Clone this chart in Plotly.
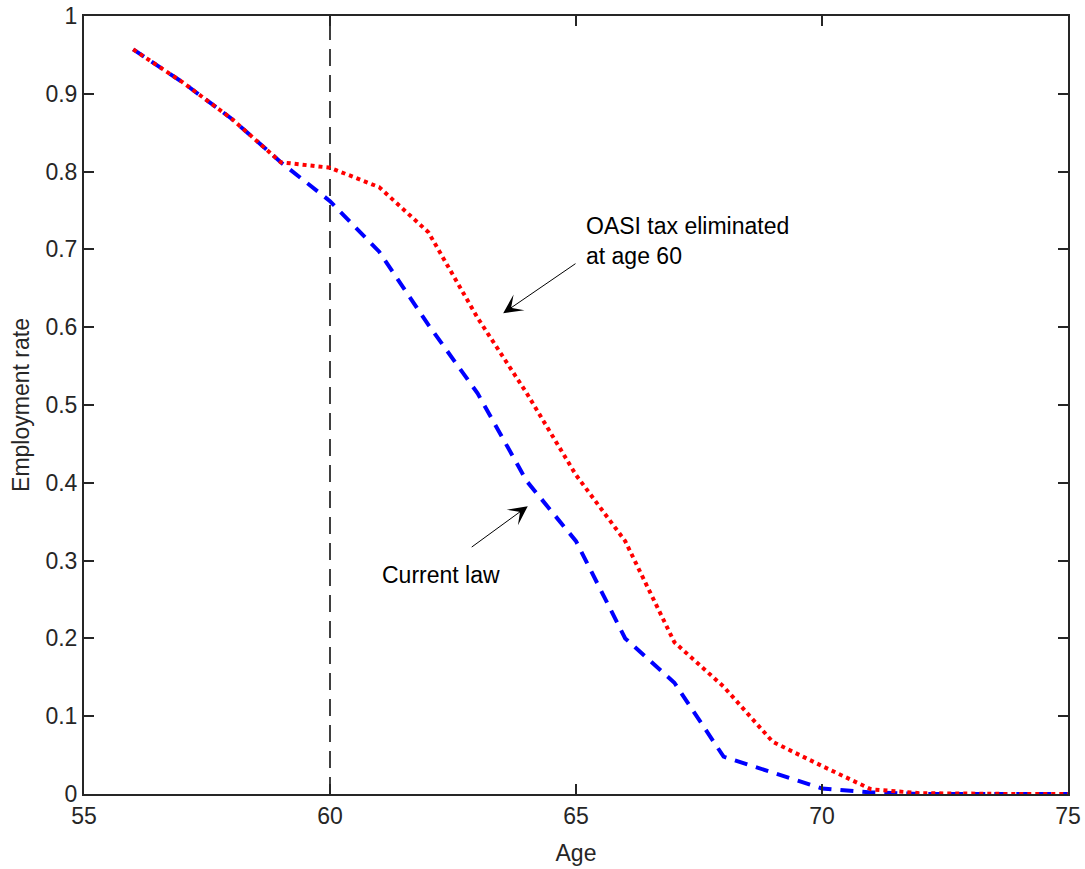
import plotly.graph_objects as go

# Employment rate by age under two policy scenarios
ages = list(range(56, 76))
current_law = [0.957, 0.915, 0.868, 0.812, 0.762, 0.697, 0.603, 0.515, 0.402, 0.325,
               0.200, 0.143, 0.048, 0.028, 0.007, 0.002, 0.0, 0.0, 0.0, 0.0]
oasi_eliminated = [0.957, 0.915, 0.868, 0.812, 0.805, 0.780, 0.722, 0.612, 0.515, 0.410,
                   0.325, 0.195, 0.138, 0.067, 0.036, 0.006, 0.001, 0.0, 0.0, 0.0]

x_ticks = [55, 60, 65, 70, 75]
y_ticks = [0, 0.1, 0.2, 0.3, 0.4, 0.5, 0.6, 0.7, 0.8, 0.9, 1]
y_tick_text = ["0", "0.1", "0.2", "0.3", "0.4", "0.5", "0.6", "0.7", "0.8", "0.9", "1"]

FONT = "Liberation Sans, Arial, Helvetica, sans-serif"
AX = "#262626"

fig = go.Figure()
fig.add_trace(go.Scatter(x=ages, y=current_law, mode="lines",
                         line=dict(color="#0000ff", width=4, dash="13px,9px"),
                         name="Current law", showlegend=False))
fig.add_trace(go.Scatter(x=ages, y=oasi_eliminated, mode="lines",
                         line=dict(color="#ff0000", width=4, dash="4px,4px"),
                         name="OASI tax eliminated at age 60", showlegend=False))

# vertical reference line at age 60
fig.add_shape(type="line", x0=60, x1=60, y0=0, y1=1, xref="x", yref="y",
              line=dict(color="black", width=1.5, dash="17px,9px"), layer="below")

fig.add_annotation(x=65.16, y=0.75, xref="x", yref="y", xanchor="left", yanchor="top",
                   text="OASI tax eliminated<br>at age 60", showarrow=False, align="left",
                   font=dict(family=FONT, size=23, color="black"))
fig.add_annotation(x=63.52, y=0.618, ax=65.02, ay=0.683, xref="x", yref="y",
                   axref="x", ayref="y", text="", showarrow=True,
                   arrowhead=3, arrowsize=3.2, arrowwidth=1, arrowcolor="black")

fig.add_annotation(x=61.02, y=0.281, xref="x", yref="y", xanchor="left", yanchor="middle",
                   text="Current law", showarrow=False,
                   font=dict(family=FONT, size=23, color="black"))
fig.add_annotation(x=64.02, y=0.370, ax=62.85, ay=0.316, xref="x", yref="y",
                   axref="x", ayref="y", text="", showarrow=True,
                   arrowhead=3, arrowsize=3.2, arrowwidth=1, arrowcolor="black")

axis_common = dict(showline=True, linecolor=AX, linewidth=2, mirror="ticks",
                   ticks="inside", ticklen=10, tickwidth=2, tickcolor=AX,
                   showgrid=False, zeroline=False, automargin=False,
                   tickfont=dict(family=FONT, size=23, color=AX),
                   title_font=dict(family=FONT, size=23, color=AX))

fig.update_xaxes(range=[55, 75], tickvals=x_ticks, title_text="Age",
                 title_standoff=17, **axis_common)
fig.update_yaxes(range=[0, 1], tickvals=y_ticks, ticktext=y_tick_text,
                 title_text="Employment rate", title_standoff=9, **axis_common)

fig.update_layout(width=1085, height=869, plot_bgcolor="white", paper_bgcolor="white",
                  margin=dict(l=84, r=17, t=16, b=75))

fig.write_html("out.html")
